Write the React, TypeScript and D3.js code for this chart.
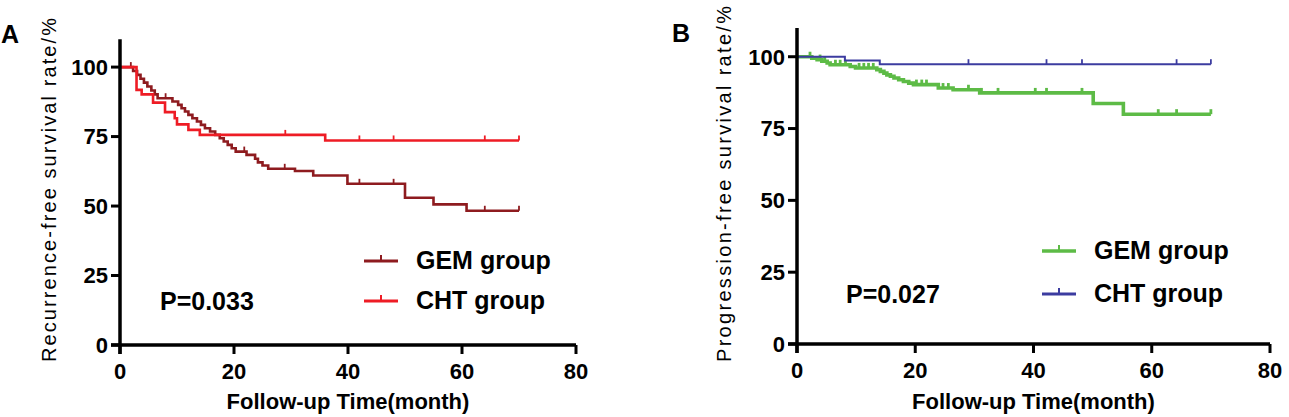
import * as d3 from "d3";

type Step = [number, number];

const FONT = "'Liberation Sans', Arial, Helvetica, sans-serif";

const timeTicks = [0, 20, 40, 60, 80];
const rateTicks = [0, 25, 50, 75, 100];
const followUpEnd = 70;

// Panel A: recurrence-free survival, [month, % surviving from that month on]
const rfsGemSteps: Step[] = [
  [0, 100], [2.3, 98.6], [3.0, 97.2], [3.6, 95.8], [4.2, 94.4], [4.8, 93.0],
  [5.5, 91.6], [6.1, 90.2], [6.6, 88.8], [9.2, 87.6], [10.2, 86.4], [10.8, 85.2],
  [11.4, 84.0], [12.0, 82.8], [12.7, 81.6], [13.5, 80.4], [14.2, 79.2], [14.9, 78.0],
  [15.8, 76.8], [16.7, 75.6], [17.5, 74.4], [18.2, 73.2], [18.9, 72.0], [19.6, 70.8],
  [20.3, 69.6], [22.2, 68.4], [23.7, 67.0], [24.2, 65.7], [25.0, 64.6], [26.0, 63.4],
  [30.7, 62.6], [33.9, 61.0], [39.9, 58.0], [50.0, 53.0], [55.0, 50.6], [60.8, 48.3],
];
const rfsGemCensor = [1.9, 8.0, 21.8, 28.9, 42.0, 48.0, 64.0, 70.0];

const rfsChtSteps: Step[] = [
  [0, 100], [2.9, 91.8], [3.8, 90.2], [5.8, 87.2], [7.9, 83.8], [9.6, 81.6],
  [10.0, 79.4], [12.0, 77.4], [14.0, 75.6], [36.0, 73.6],
];
const rfsChtCensor = [29.0, 42.0, 48.0, 64.0, 70.0];

// Panel B: progression-free survival
const pfsGemSteps: Step[] = [
  [0, 100], [2.5, 99.5], [3.4, 99.0], [4.2, 98.4], [5.1, 97.8], [5.6, 97.2],
  [9.0, 96.6], [9.9, 96.1], [13.5, 95.5], [14.1, 94.9], [14.7, 94.3], [15.2, 93.7],
  [15.8, 93.2], [16.4, 92.6], [17.2, 92.0], [18.0, 91.4], [18.9, 90.8], [19.7, 90.3],
  [23.9, 89.1], [26.4, 88.5], [30.9, 87.4], [50.1, 83.7], [55.2, 80.0],
];
const pfsGemCensor = [
  2.2, 3.9, 4.7, 6.5, 7.3, 8.2, 10.5, 11.3, 12.1, 12.9, 20.2, 21.1, 21.9,
  24.7, 25.6, 29.0, 31.2, 34.0, 40.3, 42.2, 48.2, 61.1, 64.2, 70.0,
];

const pfsChtSteps: Step[] = [[0, 100], [8.1, 98.7], [14.0, 97.4]];
const pfsChtCensor = [29.0, 42.2, 48.2, 64.2, 70.0];

interface Series {
  name: string;
  steps: Step[];
  censor: number[];
  color: string;
  width: number;
}

interface PanelProps {
  letter: string;
  letterPos: [number, number];
  yTitle: string;
  yTitlePos: [number, number, number];
  pText: string;
  pPos: [number, number];
  series: Series[];
  xRange: [number, number];
  yRange: [number, number];
  legendX: number;
  legendY: number[];
}

function survAt(steps: Step[], t: number) {
  let v = steps[0][1];
  for (const [tt, s] of steps) if (tt <= t) v = s;
  return v;
}

function Panel(p: PanelProps) {
  const x = d3.scaleLinear().domain([0, 80]).range(p.xRange);
  const y = d3.scaleLinear().domain([0, 110]).range(p.yRange);
  const line = d3
    .line<Step>()
    .x((d) => x(d[0]))
    .y((d) => y(d[1]))
    .curve(d3.curveStepAfter);
  const x0 = x(0);
  const y0 = y(0);

  return (
    <g>
      <text x={p.letterPos[0]} y={p.letterPos[1]} fontSize={25} fontWeight="bold" fontFamily={FONT}>
        {p.letter}
      </text>

      {/* curves */}
      {p.series.map((s) => {
        const pts: Step[] = [...s.steps, [followUpEnd, s.steps[s.steps.length - 1][1]]];
        return (
          <g key={s.name}>
            <path d={line(pts) ?? ""} fill="none" stroke={s.color} strokeWidth={s.width} />
            {s.censor.map((c) => (
              <line
                key={c}
                x1={x(c)}
                x2={x(c)}
                y1={y(survAt(s.steps, c))}
                y2={y(survAt(s.steps, c)) - 5}
                stroke={s.color}
                strokeWidth={Math.max(1.8, s.width - 0.8)}
              />
            ))}
          </g>
        );
      })}

      {/* axes */}
      <line x1={x0} x2={x0} y1={y(110)} y2={y0 + 9} stroke="#000" strokeWidth={3.5} />
      <line x1={x0 - 9} x2={x(80)} y1={y0} y2={y0} stroke="#000" strokeWidth={3.5} />
      {timeTicks.map((t) => (
        <g key={t}>
          <line x1={x(t)} x2={x(t)} y1={y0} y2={y0 + 9} stroke="#000" strokeWidth={3} />
          <text x={x(t)} y={y0 + 34} textAnchor="middle" fontSize={22} fontWeight="bold" fontFamily={FONT}>
            {t}
          </text>
        </g>
      ))}
      {rateTicks.map((r) => (
        <g key={r}>
          <line x1={x0 - 9} x2={x0} y1={y(r)} y2={y(r)} stroke="#000" strokeWidth={3} />
          <text
            x={x0 - 12}
            y={y(r)}
            dy="0.36em"
            textAnchor="end"
            fontSize={22}
            fontWeight="bold"
            fontFamily={FONT}
          >
            {r}
          </text>
        </g>
      ))}

      <text
        x={(x0 + x(80)) / 2}
        y={409}
        textAnchor="middle"
        fontSize={22}
        fontWeight="bold"
        fontFamily={FONT}
      >
        Follow-up Time(month)
      </text>
      <text
        transform={`translate(${p.yTitlePos[0]},${p.yTitlePos[1]}) rotate(-90)`}
        textAnchor="middle"
        fontSize={20}
        fontFamily={FONT}
        textLength={p.yTitlePos[2]}
        lengthAdjust="spacing"
      >
        {p.yTitle}
      </text>

      <text x={p.pPos[0]} y={p.pPos[1]} fontSize={25} fontWeight="bold" fontFamily={FONT}>
        {p.pText}
      </text>

      {/* legend */}
      {p.series.map((s, i) => {
        const ly = p.legendY[i];
        return (
          <g key={s.name}>
            <line x1={p.legendX} x2={p.legendX + 34} y1={ly} y2={ly} stroke={s.color} strokeWidth={Math.max(3, s.width)} />
            <line x1={p.legendX + 17} x2={p.legendX + 17} y1={ly} y2={ly - 6} stroke={s.color} strokeWidth={2} />
            <text x={p.legendX + 52} y={ly + 8} fontSize={25} fontWeight="bold" fontFamily={FONT}>
              {s.name}
            </text>
          </g>
        );
      })}
    </g>
  );
}

export default function App() {
  return (
    <svg
      width={1289}
      height={417}
      style={{ position: "absolute", left: 0, top: 0, background: "#fff" }}
    >
      <Panel
        letter="A"
        letterPos={[1, 43]}
        yTitle="Recurrence-free survival rate/%"
        yTitlePos={[56, 190, 344]}
        pText="P=0.033"
        pPos={[160, 310]}
        xRange={[120, 576]}
        yRange={[345, 39.3]}
        legendX={364}
        legendY={[261, 301]}
        series={[
          { name: "GEM group", steps: rfsGemSteps, censor: rfsGemCensor, color: "#8e1b1f", width: 2.6 },
          { name: "CHT group", steps: rfsChtSteps, censor: rfsChtCensor, color: "#ee1c25", width: 2.6 },
        ]}
      />
      <Panel
        letter="B"
        letterPos={[672, 42]}
        yTitle="Progression-free survival rate/%"
        yTitlePos={[731, 184, 356]}
        pText="P=0.027"
        pPos={[846, 303]}
        xRange={[797, 1270]}
        yRange={[344, 28]}
        legendX={1042}
        legendY={[251, 294]}
        series={[
          { name: "GEM group", steps: pfsGemSteps, censor: pfsGemCensor, color: "#5dbb46", width: 3.6 },
          { name: "CHT group", steps: pfsChtSteps, censor: pfsChtCensor, color: "#3c3ca0", width: 2 },
        ]}
      />
    </svg>
  );
}
